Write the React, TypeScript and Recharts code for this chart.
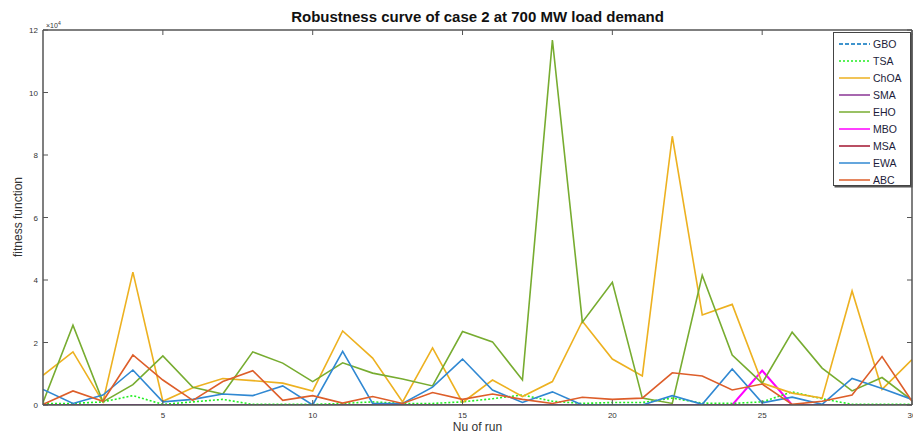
import React from 'react';
import { LineChart, Line, XAxis, YAxis, Legend } from 'recharts';

const runs = [1, 2, 3, 4, 5, 6, 7, 8, 9, 10, 11, 12, 13, 14, 15, 16, 17, 18, 19, 20, 21, 22, 23, 24, 25, 26, 27, 28, 29, 30];
const xTicks = [5, 10, 15, 20, 25, 30];
const yTicks = [0, 2, 4, 6, 8, 10, 12];

// values in units of 10^4
const GBO = [0, 0, 0, 0, 0, 0, 0, 0, 0, 0, 0, 0, 0, 0, 0, 0, 0, 0, 0, 0, 0, 0, 0, 0, 0, 0, 0, 0, 0, 0];
const TSA = [0.05, 0.05, 0.1, 0.3, 0.02, 0.1, 0.18, 0.02, 0.02, 0.02, 0.05, 0.1, 0.05, 0.05, 0.1, 0.2, 0.32, 0.12, 0.05, 0.08, 0.08, 0.22, 0.06, 0.05, 0.1, 0.42, 0.2, 0.02, 0.02, 0.02];
const ChOA = [0.95, 1.7, 0.1, 4.25, 0.12, 0.55, 0.85, 0.78, 0.7, 0.45, 2.37, 1.5, 0.1, 1.83, 0.08, 0.8, 0.27, 0.75, 2.68, 1.47, 0.93, 8.6, 2.88, 3.22, 0.7, 0.38, 0.22, 3.65, 0.5, 1.45];
const SMA = [0, 0, 0, 0, 0, 0, 0, 0, 0, 0, 0, 0, 0, 0, 0, 0, 0, 0, 0, 0, 0, 0, 0, 0, 0, 0, 0, 0, 0, 0];
const EHO = [0.08, 2.55, 0.1, 0.65, 1.57, 0.57, 0.35, 1.7, 1.34, 0.75, 1.35, 1.02, 0.83, 0.61, 2.35, 2.02, 0.8, 11.68, 2.65, 3.93, 0.22, 0.05, 4.15, 1.6, 0.7, 2.33, 1.18, 0.45, 0.88, 0.15];
const MBO = [0, 0, 0, 0, 0, 0, 0, 0, 0, 0, 0, 0, 0, 0, 0, 0, 0, 0, 0, 0, 0, 0, 0, 0, 1.1, 0, 0, 0, 0, 0];
const MSA = [0, 0, 0, 0, 0, 0, 0, 0, 0, 0, 0, 0, 0, 0, 0, 0, 0, 0, 0, 0, 0, 0, 0, 0, 0, 0, 0, 0, 0, 0];
const EWA = [0.5, 0.05, 0.32, 1.12, 0.1, 0.18, 0.35, 0.3, 0.61, 0.0, 1.72, 0.05, 0.05, 0.57, 1.47, 0.48, 0.08, 0.42, 0.0, 0.0, 0.0, 0.3, 0.02, 1.15, 0.07, 0.25, 0.02, 0.85, 0.53, 0.18];
const ABC = [0.02, 0.45, 0.12, 1.6, 0.8, 0.15, 0.75, 1.1, 0.15, 0.3, 0.06, 0.27, 0.05, 0.4, 0.18, 0.35, 0.18, 0.05, 0.25, 0.18, 0.22, 1.03, 0.93, 0.48, 0.67, 0.02, 0.12, 0.32, 1.55, 0.12];

const seriesNames = ['GBO', 'TSA', 'ChOA', 'SMA', 'EHO', 'MBO', 'MSA', 'EWA', 'ABC'];
const seriesValues = [GBO, TSA, ChOA, SMA, EHO, MBO, MSA, EWA, ABC];
const seriesColors = ['#0072BD', '#22F022', '#EDB120', '#8A3594', '#77AC30', '#FF00FF', '#A2142F', '#3088D2', '#DD5E2A'];
const seriesDash = ['4 2', '2 2', undefined, undefined, undefined, undefined, undefined, undefined, undefined];
const drawOrder = [0, 6, 5, 3, 1, 2, 4, 7, 8];

const data = runs.map((r, i) => {
  const row: Record<string, number> = { run: r };
  seriesNames.forEach((n, k) => {
    row[n] = seriesValues[k][i];
  });
  return row;
});

const AXIS = '#555';
const FONT = '"Liberation Sans", Arial, sans-serif';

const YTickLeft = (props: any) => {
  const { x, y, payload } = props;
  return (
    <g>
      <line x1={x} x2={x + 5} y1={y} y2={y} stroke={AXIS} strokeWidth={1} />
      <text x={x - 5} y={y} dy={3} textAnchor="end" fontSize={8} fill="#333" fontFamily={FONT}>
        {payload.value}
      </text>
    </g>
  );
};

const YTickRight = (props: any) => {
  const { x, y } = props;
  return <line x1={x - 5} x2={x} y1={y} y2={y} stroke={AXIS} strokeWidth={1} />;
};

const XTickBottom = (props: any) => {
  const { x, y, payload } = props;
  return (
    <g>
      <line x1={x} x2={x} y1={y - 5} y2={y} stroke={AXIS} strokeWidth={1} />
      <text x={x} y={y + 13} textAnchor="middle" fontSize={8} fill="#333" fontFamily={FONT}>
        {payload.value}
      </text>
    </g>
  );
};

const XTickTop = (props: any) => {
  const { x, y } = props;
  return <line x1={x} x2={x} y1={y} y2={y + 5} stroke={AXIS} strokeWidth={1} />;
};

const LegendBox = () => (
  <div
    style={{
      width: 78,
      height: 154,
      border: '1px solid #444',
      boxShadow: '1.5px 1.5px 0 #555',
      background: '#fff',
      paddingTop: 3,
      boxSizing: 'border-box',
      fontFamily: FONT,
      fontSize: 10.5,
      color: '#1c1c3a',
    }}
  >
    {seriesNames.map((n, k) => (
      <div key={n} style={{ height: 16.9, display: 'flex', alignItems: 'center' }}>
        <svg width={38} height={10} style={{ flex: 'none' }}>
          <line
            x1={5}
            x2={36}
            y1={5}
            y2={5}
            stroke={seriesColors[k]}
            strokeWidth={1.5}
            strokeDasharray={seriesDash[k]}
          />
        </svg>
        <span style={{ marginLeft: 1, lineHeight: '12px' }}>{n}</span>
      </div>
    ))}
  </div>
);

export default function App() {
  return (
    <div style={{ position: 'absolute', left: 0, top: 0, width: 913, height: 439, background: '#fff' }}>
      <LineChart width={913} height={439} data={data} margin={{ top: 29, right: 0, bottom: 0, left: 0 }}>
        <XAxis
          dataKey="run"
          type="number"
          domain={[1, 30]}
          ticks={xTicks}
          allowDataOverflow
          height={34}
          tickSize={0}
          tickMargin={0}
          tick={<XTickBottom />}
          axisLine={{ stroke: AXIS, strokeWidth: 1.5 }}
          tickLine={false}
          interval={0}
        />
        <XAxis
          xAxisId="top"
          orientation="top"
          dataKey="run"
          type="number"
          domain={[1, 30]}
          ticks={xTicks}
          allowDataOverflow
          height={1}
          tickSize={0}
          tickMargin={0}
          tick={<XTickTop />}
          axisLine={{ stroke: AXIS, strokeWidth: 1.5 }}
          tickLine={false}
          interval={0}
        />
        <YAxis
          type="number"
          domain={[0, 12]}
          ticks={yTicks}
          allowDataOverflow
          width={43}
          tickSize={0}
          tickMargin={0}
          tick={<YTickLeft />}
          axisLine={{ stroke: AXIS, strokeWidth: 1.5 }}
          tickLine={false}
          interval={0}
        />
        <YAxis
          yAxisId="right"
          orientation="right"
          type="number"
          domain={[0, 12]}
          ticks={yTicks}
          allowDataOverflow
          width={1}
          tickSize={0}
          tickMargin={0}
          tick={<YTickRight />}
          axisLine={{ stroke: AXIS, strokeWidth: 1.5 }}
          tickLine={false}
          interval={0}
        />
        {drawOrder.map((k) => (
          <Line
            key={seriesNames[k]}
            type="linear"
            dataKey={seriesNames[k]}
            stroke={seriesColors[k]}
            strokeWidth={k === 3 || k === 5 || k === 6 || k === 0 ? 2 : 1.6}
            strokeDasharray={seriesDash[k]}
            dot={false}
            activeDot={false}
            isAnimationActive={false}
          />
        ))}
        <Legend
          layout="vertical"
          align="center"
          verticalAlign="middle"
          content={<LegendBox />}
          wrapperStyle={{ left: 833, top: 32, width: 78, height: 154 }}
        />
      </LineChart>
      <div
        style={{
          position: 'absolute',
          left: 43,
          width: 869,
          top: 8,
          textAlign: 'center',
          fontFamily: FONT,
          fontWeight: 'bold',
          fontSize: 15,
          color: '#111',
          lineHeight: '18px',
        }}
      >
        Robustness curve of case 2 at 700 MW load demand
      </div>
      <div
        style={{
          position: 'absolute',
          left: 46,
          top: 18,
          fontFamily: FONT,
          fontSize: 7,
          color: '#333',
          lineHeight: '10px',
        }}
      >
        ×10<sup style={{ fontSize: 5 }}>4</sup>
      </div>
      <div
        style={{
          position: 'absolute',
          left: 43,
          width: 869,
          top: 420,
          textAlign: 'center',
          fontFamily: FONT,
          fontSize: 12,
          color: '#333',
          lineHeight: '15px',
        }}
      >
        Nu of run
      </div>
      <div
        style={{
          position: 'absolute',
          left: 18,
          top: 217,
          transform: 'translate(-50%, -50%) rotate(-90deg)',
          fontFamily: FONT,
          fontSize: 12,
          color: '#333',
          whiteSpace: 'nowrap',
          lineHeight: '15px',
        }}
      >
        fitness function
      </div>
    </div>
  );
}
